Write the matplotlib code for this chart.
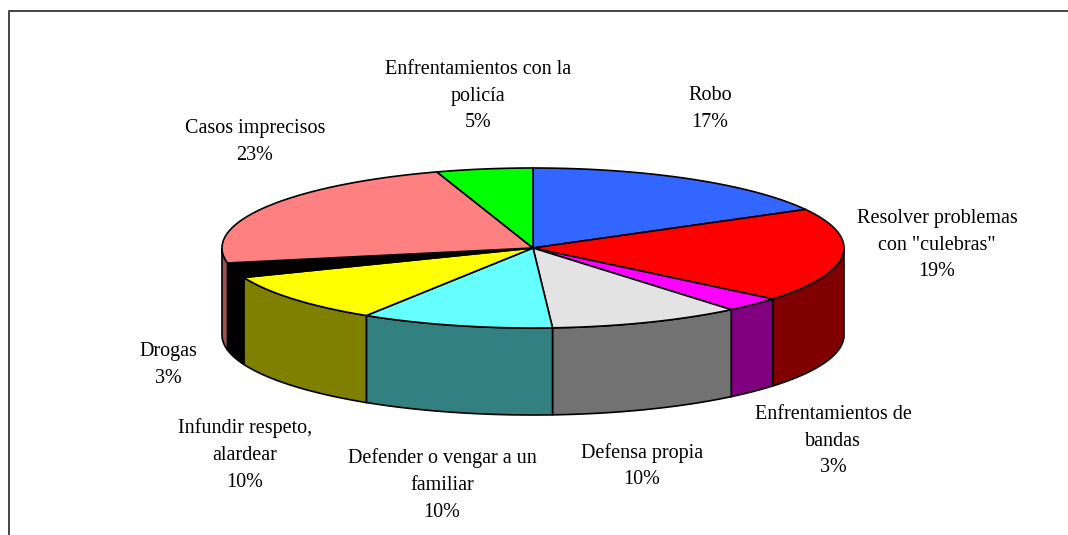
import matplotlib.pyplot as plt
import numpy as np
from matplotlib.patches import Polygon

labels = ['Robo', 'Resolver problemas\ncon "culebras"', 'Enfrentamientos de\nbandas',
          'Defensa propia', 'Defender o vengar a un\nfamiliar', 'Infundir respeto,\nalardear',
          'Drogas', 'Casos imprecisos', 'Enfrentamientos con la\npolicía']
values = [17, 19, 3, 10, 10, 10, 3, 23, 5]
top_colors = ['#3366FF', '#FF0000', '#FF00FF', '#E3E3E3', '#66FFFF', '#FFFF00',
              '#000000', '#FF8080', '#00FF00']
side_colors = ['#1A3380', '#800000', '#800080', '#727272', '#338080', '#808000',
               '#000000', '#9A5252', '#008000']
# label centres (pixels)
label_pos = [(710, 109), (937, 245), (833, 441), (642, 466), (442, 485),
             (245, 455), (168, 365), (255, 142), (478, 96)]

cx, cy, a, b, depth = 533, 248, 311, 80, 87

fig = plt.figure(figsize=(10.68, 5.35), dpi=100)
ax = fig.add_axes([0, 0, 1, 1])
ax.set_xlim(0, 1068)
ax.set_ylim(535, 0)
ax.axis('off')

def pt(th, dz=0):
    return cx + a * np.sin(th), cy - b * np.cos(th) + dz

total = float(sum(values))
bounds = np.concatenate([[0], np.cumsum(values)]) / total * 2 * np.pi

# side walls (front half only)
for i in range(len(values)):
    t1, t2 = max(bounds[i], np.pi / 2), min(bounds[i + 1], 3 * np.pi / 2)
    if t2 <= t1:
        continue
    th = np.linspace(t1, t2, 80)
    x, y = pt(th)
    xs = np.concatenate([x, x[::-1]])
    ys = np.concatenate([y, (y + depth)[::-1]])
    ax.add_patch(Polygon(np.column_stack([xs, ys]), closed=True, facecolor=side_colors[i],
                         edgecolor='black', linewidth=1.2, zorder=2))

# top faces
for i in range(len(values)):
    th = np.linspace(bounds[i], bounds[i + 1], 120)
    x, y = pt(th)
    xs = np.concatenate([[cx], x])
    ys = np.concatenate([[cy], y])
    ax.add_patch(Polygon(np.column_stack([xs, ys]), closed=True, facecolor=top_colors[i],
                         edgecolor='black', linewidth=1.2, zorder=3))

for i in range(len(values)):
    ax.text(label_pos[i][0], label_pos[i][1], labels[i] + '\n' + f'{values[i]}%',
            ha='center', va='center', fontsize=14.5, family='Liberation Serif',
            linespacing=1.55, color='black')

# frame
ax.plot([9, 9, 1068], [535, 11, 11], color='#444444', linewidth=1.4, solid_capstyle='butt')

fig.savefig('out.png', dpi=100)
